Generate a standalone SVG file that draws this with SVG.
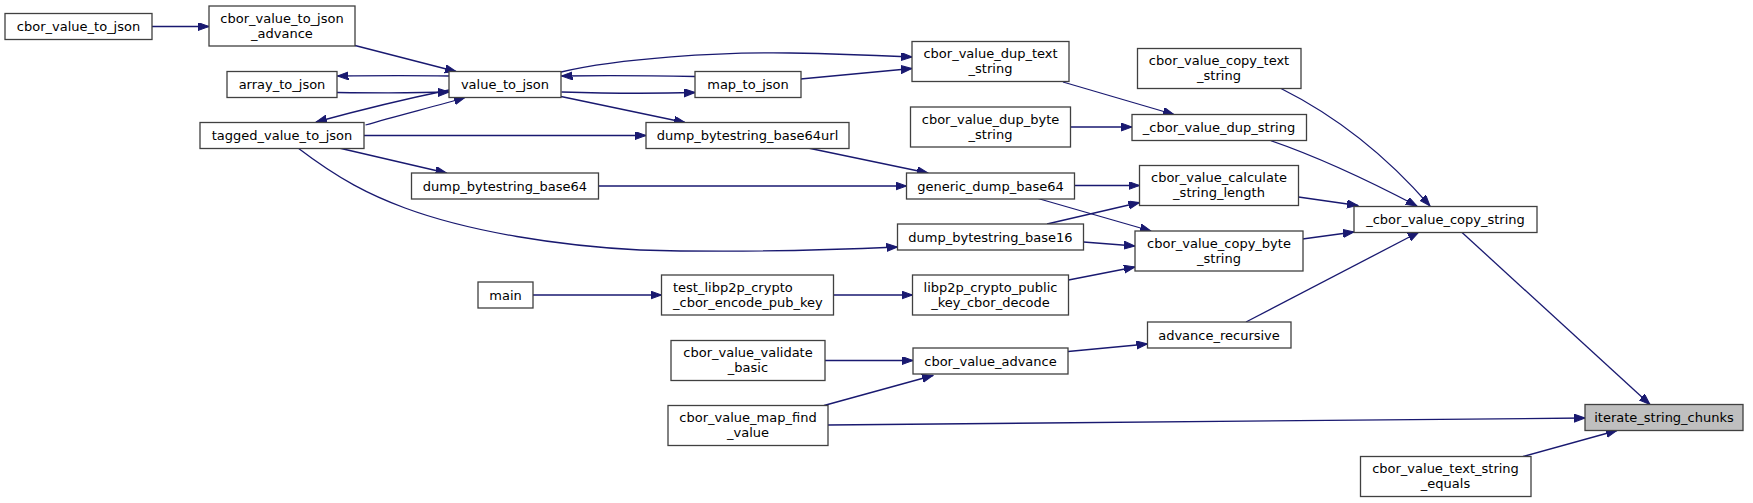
<svg xmlns="http://www.w3.org/2000/svg" width="1753" height="503" viewBox="0 0 1753 503">
<style>
.n rect{fill:#fff;stroke:#404040;stroke-width:1.3}
.n.hl rect{fill:#bfbfbf}
.n text{font-family:"DejaVu Sans",sans-serif;font-size:13px;fill:#000;text-anchor:middle}
.e path{fill:none;stroke:#191970;stroke-width:1.3;marker-end:url(#ah)}
</style>
<defs>
<marker id="ah" markerUnits="userSpaceOnUse" markerWidth="12" markerHeight="9" refX="11" refY="4" orient="auto">
<path d="M0,0 L11,4 L0,8 z" fill="#191970" stroke="#191970" stroke-width="1"/>
</marker>
</defs>
<rect width="1753" height="503" fill="#fff"/>
<g id="edges" class="e">
<path d="M152,26.5 L209,26.5"/>
<path d="M355,45.5 L456,71.5"/>
<path d="M449,76 C420,75.5 380,75.5 337.5,76"/>
<path d="M337,92.5 C380,93 420,93 449,92"/>
<path d="M449,90 C410,98 360,110 316,122"/>
<path d="M365.5,125 C400,115 440,105 465,97.5"/>
<path d="M561,72 C620,58 720,52 790,53 C850,54 890,56 912,57"/>
<path d="M695,76.5 C640,75.5 600,75.5 561.5,76"/>
<path d="M561.5,92 C610,93.5 660,93.5 695,92.5"/>
<path d="M800.5,79 L912,68.5"/>
<path d="M561,96.5 L685,122.5"/>
<path d="M364,135.5 L646,135.5"/>
<path d="M339,148 L446.5,173"/>
<path d="M298,148 C340,180 370,195 405,208 C470,232 560,246 640,250 C740,253 830,250 897.5,247"/>
<path d="M808,148 L928,173"/>
<path d="M598.5,186 L906.5,186"/>
<path d="M1074.5,185.5 L1139.5,185.5"/>
<path d="M1038,198.5 L1151,231"/>
<path d="M1047,224 L1139.5,202.5"/>
<path d="M1083.5,242 L1135,246"/>
<path d="M533,295 L661.5,295"/>
<path d="M833.5,295 L912.5,295"/>
<path d="M1068.5,280 L1135,267"/>
<path d="M825,360.5 L913,360.5"/>
<path d="M824,405.5 L933,375.5"/>
<path d="M828,425 L1585,418"/>
<path d="M1068,351.5 L1147.5,344"/>
<path d="M1246,322 L1419,232"/>
<path d="M1302.5,239 L1354,232"/>
<path d="M1298.5,197 L1358,205.5"/>
<path d="M1269,140 C1310,154 1360,176 1417,206"/>
<path d="M1281,88.5 C1340,118 1390,160 1430,206"/>
<path d="M1063,82 L1174,114.5"/>
<path d="M1070.5,127 L1132,127"/>
<path d="M1461.5,232 L1650,404.5"/>
<path d="M1523,456.5 L1617,430.5"/>
</g>
<g id="n_cbor_value_to_json" class="n"><rect x="5" y="13.5" width="147" height="26"/><text x="78.5" y="31">cbor_value_to_json</text></g>
<g id="n_cbor_value_to_json_advance" class="n"><rect x="209" y="6" width="146" height="40"/><text x="282" y="22.5">cbor_value_to_json</text><text x="282" y="37.5">_advance</text></g>
<g id="n_array_to_json" class="n"><rect x="227" y="71.5" width="110" height="26"/><text x="282" y="89">array_to_json</text></g>
<g id="n_value_to_json" class="n"><rect x="449" y="71.5" width="112" height="26"/><text x="505" y="89">value_to_json</text></g>
<g id="n_tagged_value_to_json" class="n"><rect x="200" y="122.5" width="164" height="26"/><text x="282" y="140">tagged_value_to_json</text></g>
<g id="n_dump_bytestring_base64" class="n"><rect x="411.5" y="173" width="187" height="26"/><text x="505" y="190.5">dump_bytestring_base64</text></g>
<g id="n_main" class="n"><rect x="478" y="282" width="55" height="26"/><text x="505.5" y="299.5">main</text></g>
<g id="n_map_to_json" class="n"><rect x="695" y="71.5" width="106" height="26"/><text x="748" y="89">map_to_json</text></g>
<g id="n_dump_bytestring_base64url" class="n"><rect x="646" y="122.5" width="203" height="26"/><text x="747.5" y="140">dump_bytestring_base64url</text></g>
<g id="n_test_libp2p_crypto_cbor_encode_pub_key" class="n"><rect x="661.5" y="275" width="172" height="40"/><text x="673" y="291.5" style="text-anchor:start">test_libp2p_crypto</text><text x="673" y="306.5" style="text-anchor:start">_cbor_encode_pub_key</text></g>
<g id="n_cbor_value_validate_basic" class="n"><rect x="671" y="340.5" width="154" height="40"/><text x="748" y="357">cbor_value_validate</text><text x="748" y="372">_basic</text></g>
<g id="n_cbor_value_map_find_value" class="n"><rect x="668" y="405.5" width="160" height="40"/><text x="748" y="422">cbor_value_map_find</text><text x="748" y="437">_value</text></g>
<g id="n_cbor_value_dup_text_string" class="n"><rect x="912" y="41.5" width="157" height="40"/><text x="990.5" y="58">cbor_value_dup_text</text><text x="990.5" y="73">_string</text></g>
<g id="n_cbor_value_dup_byte_string" class="n"><rect x="910.5" y="107" width="160" height="40"/><text x="990.5" y="123.5">cbor_value_dup_byte</text><text x="990.5" y="138.5">_string</text></g>
<g id="n_generic_dump_base64" class="n"><rect x="906.5" y="173" width="168" height="26"/><text x="990.5" y="190.5">generic_dump_base64</text></g>
<g id="n_dump_bytestring_base16" class="n"><rect x="897.5" y="224" width="186" height="26"/><text x="990.5" y="241.5">dump_bytestring_base16</text></g>
<g id="n_libp2p_crypto_public_key_cbor_decode" class="n"><rect x="912.5" y="275" width="156" height="40"/><text x="990.5" y="291.5">libp2p_crypto_public</text><text x="990.5" y="306.5">_key_cbor_decode</text></g>
<g id="n_cbor_value_advance" class="n"><rect x="913" y="348" width="155" height="26"/><text x="990.5" y="365.5">cbor_value_advance</text></g>
<g id="n_cbor_value_copy_text_string" class="n"><rect x="1137.5" y="48.5" width="163.5" height="40"/><text x="1219" y="65">cbor_value_copy_text</text><text x="1219" y="80">_string</text></g>
<g id="n__cbor_value_dup_string" class="n"><rect x="1132" y="114.5" width="174.5" height="26"/><text x="1219" y="132">_cbor_value_dup_string</text></g>
<g id="n_cbor_value_calculate_string_length" class="n"><rect x="1139.5" y="165.5" width="159" height="40"/><text x="1219" y="182">cbor_value_calculate</text><text x="1219" y="197">_string_length</text></g>
<g id="n_cbor_value_copy_byte_string" class="n"><rect x="1135" y="231" width="168" height="40"/><text x="1219" y="247.5">cbor_value_copy_byte</text><text x="1219" y="262.5">_string</text></g>
<g id="n_advance_recursive" class="n"><rect x="1147.5" y="322" width="143.5" height="26"/><text x="1219" y="339.5">advance_recursive</text></g>
<g id="n__cbor_value_copy_string" class="n"><rect x="1354" y="206.5" width="183" height="26"/><text x="1445.5" y="224">_cbor_value_copy_string</text></g>
<g id="n_cbor_value_text_string_equals" class="n"><rect x="1360.5" y="456.5" width="170.5" height="40"/><text x="1445.5" y="473">cbor_value_text_string</text><text x="1445.5" y="488">_equals</text></g>
<g id="n_iterate_string_chunks" class="n hl"><rect x="1585" y="404.5" width="158" height="26"/><text x="1664" y="422">iterate_string_chunks</text></g>
</svg>
